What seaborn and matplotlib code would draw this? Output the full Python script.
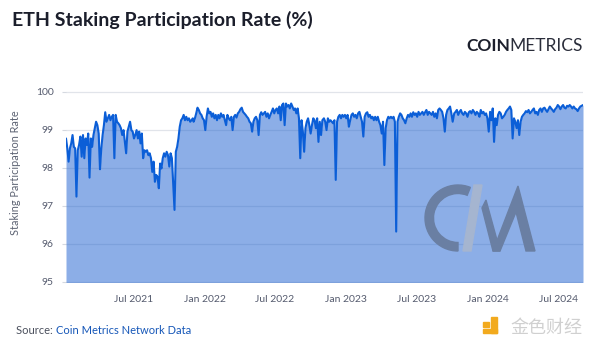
import numpy as np
import pandas as pd
import matplotlib
matplotlib.use("Agg")
import matplotlib.pyplot as plt
import matplotlib.dates as mdates
import matplotlib.transforms as mtransforms
from matplotlib.patches import Wedge, Polygon, Rectangle
import seaborn as sns

# ---------------- data ----------------
seg1_range = ("2021-01-08", "2021-12-01")
seg1_values = [98.77, 98.51, 98.16, 98.51, 98.64, 98.86, 98.55, 98.51, 97.24, 98.46,
               98.60, 98.82, 98.29, 98.86, 98.25, 98.77, 98.60, 98.90, 97.74, 98.77,
               98.55, 98.86, 99.04, 99.21, 99.12, 98.90, 97.96, 98.51, 98.86, 99.12,
               99.46, 99.21, 99.30, 99.39, 99.25, 99.34, 99.39, 98.25, 99.39, 99.21,
               99.17, 99.12, 99.04, 98.86, 98.99, 98.68, 98.38, 98.95, 99.08, 99.21,
               98.99, 98.95, 98.77, 98.86, 98.99, 98.77, 98.95, 98.64, 98.90, 98.25,
               98.46, 98.42, 98.46, 98.33, 98.38, 98.25, 97.89, 98.16, 97.63, 97.81,
               97.76, 97.46, 98.11, 97.98, 98.25, 98.38, 98.29, 98.42, 98.33, 98.03,
               98.38, 98.25, 97.54, 96.89, 98.42, 98.55, 98.77, 99.08, 99.25, 99.30,
               99.39, 99.25, 99.34, 99.25, 99.30, 99.21, 99.25, 99.30]

seg2_range = ("2021-12-03", "2022-10-31")
seg2_values = [99.21, 99.30, 99.43, 99.58, 99.52, 99.43, 99.39, 99.30, 99.25, 98.99,
               99.34, 99.56, 99.43, 99.47, 99.34, 99.43, 99.30, 99.39, 99.25, 99.39,
               99.30, 99.43, 99.34, 99.39, 99.25, 99.12, 99.39, 99.30, 99.25, 99.34,
               98.99, 99.34, 99.39, 99.32, 99.43, 99.47, 99.54, 99.58, 99.47, 99.43,
               99.39, 99.34, 99.30, 99.21, 99.17, 98.95, 99.21, 99.30, 99.34, 99.25,
               98.86, 99.39, 99.46, 99.39, 99.43, 99.47, 99.34, 99.43, 99.30, 99.39,
               99.47, 99.56, 99.43, 99.52, 99.56, 99.43, 99.61, 99.25, 99.65, 99.69,
               99.12, 99.69, 99.61, 99.65, 99.56, 99.69, 99.61, 99.52, 99.56, 99.43,
               99.56, 99.30, 98.25, 99.25, 98.95, 98.42, 99.04, 99.21, 99.30, 99.12,
               98.90, 99.12, 99.30, 99.25, 99.04, 99.30, 98.68, 99.21, 98.86, 99.25]

seg3_range = ("2022-11-04", "2023-10-02")
seg3_values = [99.30, 99.21, 98.99, 99.30, 99.21, 99.25, 99.21, 99.17, 99.25, 97.68,
               99.21, 99.34, 99.39, 99.30, 99.39, 99.34, 99.39, 99.30, 99.39, 99.08,
               99.25, 99.39, 99.43, 99.34, 99.39, 99.30, 99.43, 99.47, 99.34, 99.21,
               98.82, 99.34, 99.43, 99.46, 99.34, 99.39, 99.30, 99.34, 99.25, 99.34,
               99.25, 99.34, 99.21, 99.12, 98.90, 99.21, 98.07, 99.04, 99.25, 99.34,
               99.30, 99.34, 99.30, 99.34, 99.21, 96.32, 99.21, 99.34, 99.43, 99.39,
               99.30, 99.25, 99.17, 99.30, 99.39, 99.34, 99.43, 99.34, 99.46, 99.39,
               99.43, 99.34, 99.47, 99.39, 99.43, 99.47, 99.39, 99.46, 99.52, 99.39,
               99.47, 99.43, 99.39, 99.47, 99.34, 99.43, 99.30, 99.52, 99.56, 99.52,
               99.47, 99.30, 98.95, 99.39, 99.52, 99.56, 99.61, 99.43, 99.21]

seg4_range = ("2023-10-06", "2024-09-02")
seg4_values = [99.43, 99.47, 99.52, 99.39, 99.47, 99.52, 99.43, 99.39, 99.47, 99.43,
               99.34, 99.46, 99.49, 99.43, 99.52, 99.47, 99.39, 99.47, 99.43, 99.34,
               99.52, 99.43, 99.47, 99.39, 99.43, 99.30, 98.95, 99.47, 99.25, 99.56,
               98.68, 99.30, 99.12, 99.39, 99.47, 99.43, 99.30, 99.34, 99.39, 99.47,
               99.52, 99.56, 99.61, 99.52, 98.77, 99.30, 99.21, 99.04, 99.25, 98.86,
               99.21, 99.34, 99.39, 99.43, 99.49, 99.46, 99.52, 99.43, 99.47, 99.52,
               99.56, 99.43, 99.47, 99.39, 99.52, 99.56, 99.47, 99.56, 99.58, 99.52,
               99.47, 99.54, 99.61, 99.56, 99.52, 99.47, 99.54, 99.58, 99.65, 99.61,
               99.54, 99.61, 99.65, 99.58, 99.56, 99.63, 99.61, 99.65, 99.61, 99.56,
               99.61, 99.56, 99.54, 99.49, 99.56, 99.61, 99.63, 99.65]

y_ticks = [95, 96, 97, 98, 99, 100]
title_text = "ETH Staking Participation Rate (%)"
y_label = "Staking Participation Rate"

# ---------------- build frame ----------------
frames = []
for (start, end), vals in [(seg1_range, seg1_values), (seg2_range, seg2_values),
                           (seg3_range, seg3_values), (seg4_range, seg4_values)]:
    frames.append(pd.DataFrame({"date": pd.date_range(start, end, periods=len(vals)),
                                "rate": vals}))
df = pd.concat(frames, ignore_index=True)

# ---------------- figure ----------------
sns.set_theme(style="white")
plt.rcParams["font.family"] = ["Lato", "DejaVu Sans"]

W, H = 600, 347
fig = plt.figure(figsize=(6.0, 3.47), dpi=100)
ax = fig.add_axes([66 / W, (H - 282.5) / H, (583 - 66) / W, (282.5 - 90.2) / H])

ymin, ymax = 94.98, 100.04
ax.set_ylim(ymin, ymax)
ax.set_xlim(df["date"].iloc[0], df["date"].iloc[-1])

ax.yaxis.grid(True, color="#e1e4ea", linewidth=0.9, zorder=0)
ax.set_axisbelow(True)
ax.fill_between(df["date"], df["rate"], ymin, color="#1a5fd0", alpha=0.5,
                linewidth=0, zorder=1)
sns.lineplot(data=df, x="date", y="rate", ax=ax, color="#0b5ed7",
             linewidth=1.5, zorder=3)

for s in ax.spines.values():
    s.set_visible(False)

ax.set_yticks(y_ticks)
ax.set_yticklabels([str(t) for t in y_ticks])
ax.xaxis.set_major_locator(mdates.MonthLocator(bymonth=[1, 7]))
ax.xaxis.set_major_formatter(mdates.DateFormatter("%b %Y"))
ax.tick_params(axis="x", length=0, pad=9, labelsize=7.5, labelcolor="#555b6e")
ax.tick_params(axis="y", left=True, length=3, width=0.8, color="#d5d9e0", pad=6,
               labelsize=7.5, labelcolor="#555b6e")
ax.set_xlabel("")
ax.set_ylabel("")

# titles / labels
fig.text(12 / W, 1 - 20 / H, title_text, fontsize=14, fontweight="bold",
         color="#1b1e2b", ha="left", va="center")
fig.text(16 / W, 1 - 173 / H, y_label, rotation=90, fontsize=7.8,
         color="#5d6373", ha="center", va="center")

# COINMETRICS wordmark
t1 = fig.text(466 / W, 1 - 46 / H, "COIN", fontsize=12.5, fontweight="bold",
              color="#1b1e2b", ha="left", va="center")
fig.canvas.draw()
bb = t1.get_window_extent()
fig.text(bb.x1 / W, 1 - 46 / H, "METRICS", fontsize=12.5, fontweight="normal",
         color="#2a2d3a", ha="left", va="center")

# source line
s1 = fig.text(16 / W, 1 - 331 / H, "Source: ", fontsize=8, color="#4a4f5c",
              ha="left", va="center")
fig.canvas.draw()
bb = s1.get_window_extent()
fig.text(bb.x1 / W, 1 - 331 / H, "Coin Metrics Network Data", fontsize=8,
         color="#1657b8", ha="left", va="center")

# watermark text
fig.text(510 / W, 1 - 328 / H, "金色财经", fontsize=13,
         family=["Noto Sans CJK SC", "DejaVu Sans"], color="#d0d0d0",
         ha="left", va="center")

# decorative logos (pixel coordinates)
px = mtransforms.IdentityTransform()
def P(x, y):
    return (x, H - y)

cm_dark = "#6a7fa3"
cm_light = "#a5b5d0"
fig.add_artist(Wedge(P(458, 218), 33, 68, 270, width=8.5, transform=px,
                     color=cm_dark, zorder=5))
fig.add_artist(Polygon([P(474, 185), P(482, 185), P(471, 251), P(463, 251)],
                       closed=True, transform=px, color=cm_light, zorder=5))
fig.add_artist(Polygon([P(482, 208), P(486, 200), P(500, 251), P(493, 251)],
                       closed=True, transform=px, color=cm_dark, zorder=5))
fig.add_artist(Polygon([P(493, 251), P(518, 186), P(535, 251), P(526, 251),
                        P(516, 212), P(500, 251)],
                       closed=True, transform=px, color=cm_dark, zorder=5))

# yellow icon of the watermark
icon = "#f2aa1e"
fig.add_artist(Rectangle(P(483, 327), 6, 5, transform=px, color=icon, zorder=5))
fig.add_artist(Rectangle(P(491, 333), 6, 16, transform=px, color=icon, zorder=5))
fig.add_artist(Rectangle(P(483, 333), 14, 4, transform=px, color=icon, zorder=5))

fig.savefig("out.png", dpi=100)
